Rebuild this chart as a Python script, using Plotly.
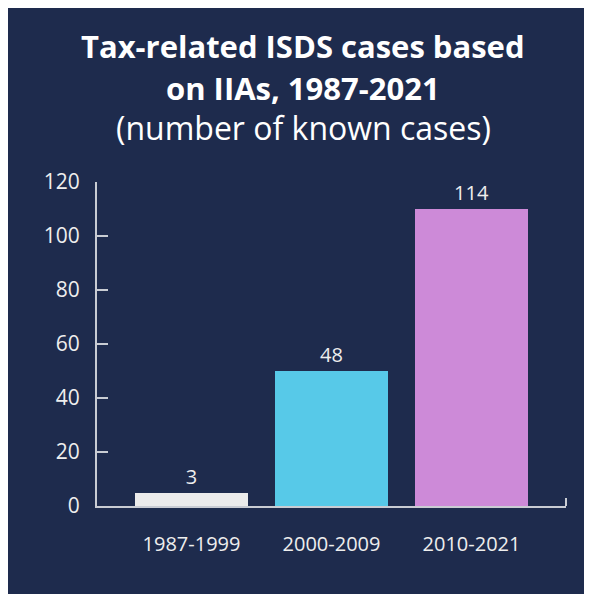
import plotly.graph_objects as go

categories = ["1987-1999", "2000-2009", "2010-2021"]
bar_heights = [5, 50, 110]
bar_labels = ["3", "48", "114"]
bar_colors = ["#ebebeb", "#57c9e8", "#cd8ad8"]
y_ticks = [0, 20, 40, 60, 80, 100, 120]
title_lines = ["<b>Tax-related ISDS cases based</b>", "<b>on IIAs, 1987-2021</b>", "(number of known cases)"]

W, H = 592, 594
L, R, T, B = 89, 34, 174, 96
PW, PH = W - L - R, H - T - B

def px_x(x):
    return (x - L) / PW

def px_y(y):
    return (H - B - y) / PH

BG = "#1e2b4d"
TXT = "#eeeeee"
AX = "#c9ccd3"
FONT = "Open Sans"

fig = go.Figure()
fig.add_trace(go.Bar(
    x=list(range(len(categories))),
    y=bar_heights,
    text=bar_labels,
    textposition="outside",
    textfont=dict(family=FONT, size=20, color=TXT),
    marker=dict(color=bar_colors, line=dict(width=0)),
    width=0.81,
    cliponaxis=False,
    hoverinfo="skip",
))

annotations = []
for txt, yc, fs in zip(title_lines, [38, 80, 120], [31, 31, 32]):
    annotations.append(dict(
        text=txt, xref="paper", yref="paper", x=px_x(295), y=px_y(yc),
        xanchor="center", yanchor="middle", showarrow=False,
        font=dict(family=FONT, size=fs, color="#ffffff"),
    ))

shapes = [
    dict(type="line", xref="paper", yref="paper", x0=1, x1=1, y0=0, y1=px_y(H - B - 8),
         line=dict(color=AX, width=2)),
]

fig.update_layout(
    width=W, height=H,
    margin=dict(l=L, r=R, t=T, b=B, pad=0),
    paper_bgcolor=BG, plot_bgcolor=BG,
    showlegend=False,
    bargap=0,
    annotations=annotations,
    shapes=shapes,
    font=dict(family=FONT, color=TXT),
    xaxis=dict(
        range=[-0.675, 2.675],
        tickmode="array", tickvals=list(range(len(categories))), ticktext=categories,
        showgrid=False, zeroline=False,
        showline=True, linecolor=AX, linewidth=2,
        ticks="", ticklabelstandoff=19,
        tickfont=dict(family=FONT, size=20, color=TXT),
        fixedrange=True,
    ),
    yaxis=dict(
        range=[0, 120],
        tickmode="array", tickvals=y_ticks,
        showgrid=False, zeroline=False,
        showline=True, linecolor=AX, linewidth=2,
        ticks="inside", ticklen=11, tickwidth=2, tickcolor=AX,
        ticklabelstandoff=11,
        tickfont=dict(family=FONT, size=21, color=TXT),
        fixedrange=True,
    ),
)

fig.write_html("out.html")
